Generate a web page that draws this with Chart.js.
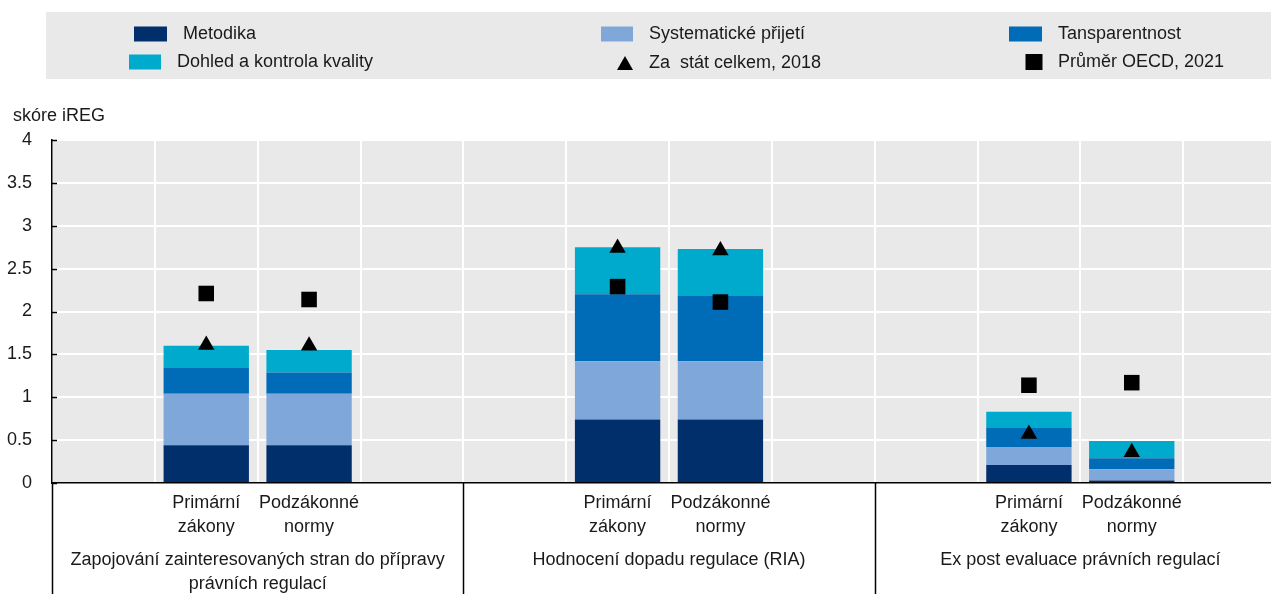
<!DOCTYPE html>
<html lang="cs">
<head>
<meta charset="UTF-8">
<title>Skóre iREG</title>
<script src="https://cdn.jsdelivr.net/npm/chart.js"></script>
<style>
  body { margin: 0; overflow: hidden; background: #fff; }
</style>
</head>
<body>
<canvas id="chart" width="1297" height="600"></canvas>
<script>
// slots: empty / primary / secondary / empty in each of the three groups
const categories = [
  '', ['Primární', 'zákony'], ['Podzákonné', 'normy'], '',
  '', ['Primární', 'zákony'], ['Podzákonné', 'normy'], '',
  '', ['Primární', 'zákony'], ['Podzákonné', 'normy'], ''
];
const groupLabels = [
  ['Zapojování zainteresovaných stran do přípravy', 'právních regulací'],
  ['Hodnocení dopadu regulace (RIA)'],
  ['Ex post evaluace právních regulací']
];

const metodika        = [null, 0.44, 0.44, null, null, 0.74, 0.74, null, null, 0.21, 0.03, null];
const systematicke    = [null, 0.60, 0.60, null, null, 0.68, 0.68, null, null, 0.21, 0.13, null];
const transparentnost = [null, 0.30, 0.25, null, null, 0.78, 0.76, null, null, 0.22, 0.13, null];
const dohled          = [null, 0.26, 0.26, null, null, 0.55, 0.55, null, null, 0.19, 0.20, null];
const celkem2018      = [null, 1.61, 1.60, null, null, 2.74, 2.71, null, null, 0.57, 0.36, null];
const oecd2021        = [null, 2.21, 2.14, null, null, 2.29, 2.11, null, null, 1.14, 1.17, null];

const yTicks = [0, 0.5, 1, 1.5, 2, 2.5, 3, 3.5, 4];

const FONT = '"Liberation Sans Narrow", "Arial Narrow", "Liberation Sans", sans-serif';
const FONT_SIZE = 18;
const TEXT = '#1a1a1a';
const C_MET = '#002f6c';
const C_SYS = '#7fa7d9';
const C_TRA = '#006bb6';
const C_DOH = '#00aacc';
const PANEL = '#e9e9e9';

const legendItems = [
  { label: 'Metodika', kind: 'box', color: C_MET, x: 134, y: 34, w: 33, h: 15, tx: 183 },
  { label: 'Systematické přijetí', kind: 'box', color: C_SYS, x: 601, y: 34, w: 32, h: 15, tx: 649 },
  { label: 'Tansparentnost', kind: 'box', color: C_TRA, x: 1009, y: 34, w: 33, h: 15, tx: 1058 },
  { label: 'Dohled a kontrola kvality', kind: 'box', color: C_DOH, x: 129, y: 62, w: 32, h: 15, tx: 177 },
  { label: 'Za  stát celkem, 2018', kind: 'tri', color: '#000', x: 625, y: 63, w: 16, h: 14, tx: 649 },
  { label: 'Průměr OECD, 2021', kind: 'sq', color: '#000', x: 1034, y: 62, w: 17, h: 16, tx: 1058 }
];

const decorPlugin = {
  id: 'decor',
  beforeDraw(chart) {
    const { ctx, chartArea: a } = chart;
    ctx.save();
    ctx.fillStyle = PANEL;
    ctx.fillRect(a.left, a.top, a.right - a.left, a.bottom - a.top);
    ctx.restore();
  },
  afterDraw(chart) {
    const { ctx, chartArea: a, scales } = chart;
    const xs = scales.x, ys = scales.y;
    ctx.save();

    // legend panel
    ctx.fillStyle = PANEL;
    ctx.fillRect(46, 12, chart.width - 46, 67);
    ctx.font = FONT_SIZE + 'px ' + FONT;
    ctx.textBaseline = 'middle';
    ctx.textAlign = 'left';
    legendItems.forEach(it => {
      ctx.fillStyle = it.color;
      if (it.kind === 'box') {
        ctx.fillRect(it.x, it.y - it.h / 2, it.w, it.h);
      } else if (it.kind === 'sq') {
        ctx.fillRect(it.x - it.w / 2, it.y - it.h / 2, it.w, it.h);
      } else {
        ctx.beginPath();
        ctx.moveTo(it.x, it.y - it.h / 2);
        ctx.lineTo(it.x + it.w / 2, it.y + it.h / 2);
        ctx.lineTo(it.x - it.w / 2, it.y + it.h / 2);
        ctx.closePath();
        ctx.fill();
      }
      ctx.fillStyle = TEXT;
      ctx.fillText(it.label, it.tx, it.y);
    });

    // axis title
    ctx.fillText('skóre iREG', 13, 116);

    // inward tick marks on the value axis
    ctx.strokeStyle = '#000';
    ctx.lineWidth = 1.5;
    yTicks.forEach(v => {
      const y = Math.round(ys.getPixelForValue(v)) + 0.5;
      ctx.beginPath();
      ctx.moveTo(a.left, y);
      ctx.lineTo(a.left + 5, y);
      ctx.stroke();
    });

    // group separators below the category axis
    const bounds = [a.left];
    for (let g = 1; g < groupLabels.length; g++) {
      bounds.push((xs.getPixelForValue(g * 4 - 1) + xs.getPixelForValue(g * 4)) / 2);
    }
    bounds.forEach(x => {
      ctx.beginPath();
      ctx.moveTo(Math.round(x) + 0.5, a.bottom);
      ctx.lineTo(Math.round(x) + 0.5, chart.height);
      ctx.stroke();
    });

    // group names
    ctx.textAlign = 'center';
    ctx.textBaseline = 'alphabetic';
    ctx.fillStyle = TEXT;
    groupLabels.forEach((lines, g) => {
      const cx = (xs.getPixelForValue(g * 4 + 1) + xs.getPixelForValue(g * 4 + 2)) / 2;
      lines.forEach((t, i) => ctx.fillText(t, cx, 565 + i * 24));
    });
    ctx.restore();
  }
};

const barDefaults = { stack: 'bars', order: 2, barPercentage: 0.83, categoryPercentage: 1 };

new Chart(document.getElementById('chart'), {
  type: 'bar',
  data: {
    labels: categories,
    datasets: [
      { ...barDefaults, label: 'Metodika', data: metodika, backgroundColor: C_MET },
      { ...barDefaults, label: 'Systematické přijetí', data: systematicke, backgroundColor: C_SYS },
      { ...barDefaults, label: 'Tansparentnost', data: transparentnost, backgroundColor: C_TRA },
      { ...barDefaults, label: 'Dohled a kontrola kvality', data: dohled, backgroundColor: C_DOH },
      {
        type: 'line', label: 'Za  stát celkem, 2018', data: celkem2018, stack: 'tri', order: 0,
        showLine: false, pointStyle: 'triangle', pointRadius: 9.5,
        pointBackgroundColor: '#000', pointBorderWidth: 0
      },
      {
        type: 'line', label: 'Průměr OECD, 2021', data: oecd2021, stack: 'sq', order: 0,
        showLine: false, pointStyle: 'rect', pointRadius: 11,
        pointBackgroundColor: '#000', pointBorderWidth: 0
      }
    ]
  },
  options: {
    responsive: false,
    animation: false,
    layout: { padding: { top: 140, left: 0, right: 0, bottom: 0 } },
    plugins: { legend: { display: false }, tooltip: { enabled: false } },
    scales: {
      x: {
        stacked: true,
        offset: true,
        grid: { offset: true, color: '#ffffff', lineWidth: 2, drawTicks: false },
        border: { color: '#000', width: 1.5 },
        ticks: {
          autoSkip: false, maxRotation: 0, padding: 8, color: TEXT,
          font: { family: FONT, size: FONT_SIZE, lineHeight: 1.333 }
        },
        afterFit(scale) { scale.height = 117; }
      },
      y: {
        stacked: true,
        min: 0, max: 4,
        afterBuildTicks(scale) { scale.ticks = yTicks.map(v => ({ value: v })); },
        grid: { color: '#ffffff', lineWidth: 2, drawTicks: false },
        border: { color: '#000', width: 1.5 },
        ticks: {
          padding: 20, color: TEXT,
          font: { family: FONT, size: FONT_SIZE },
          callback: v => String(v)
        },
        afterFit(scale) { scale.width = 52; }
      }
    }
  },
  plugins: [decorPlugin]
});
</script>
</body>
</html>
